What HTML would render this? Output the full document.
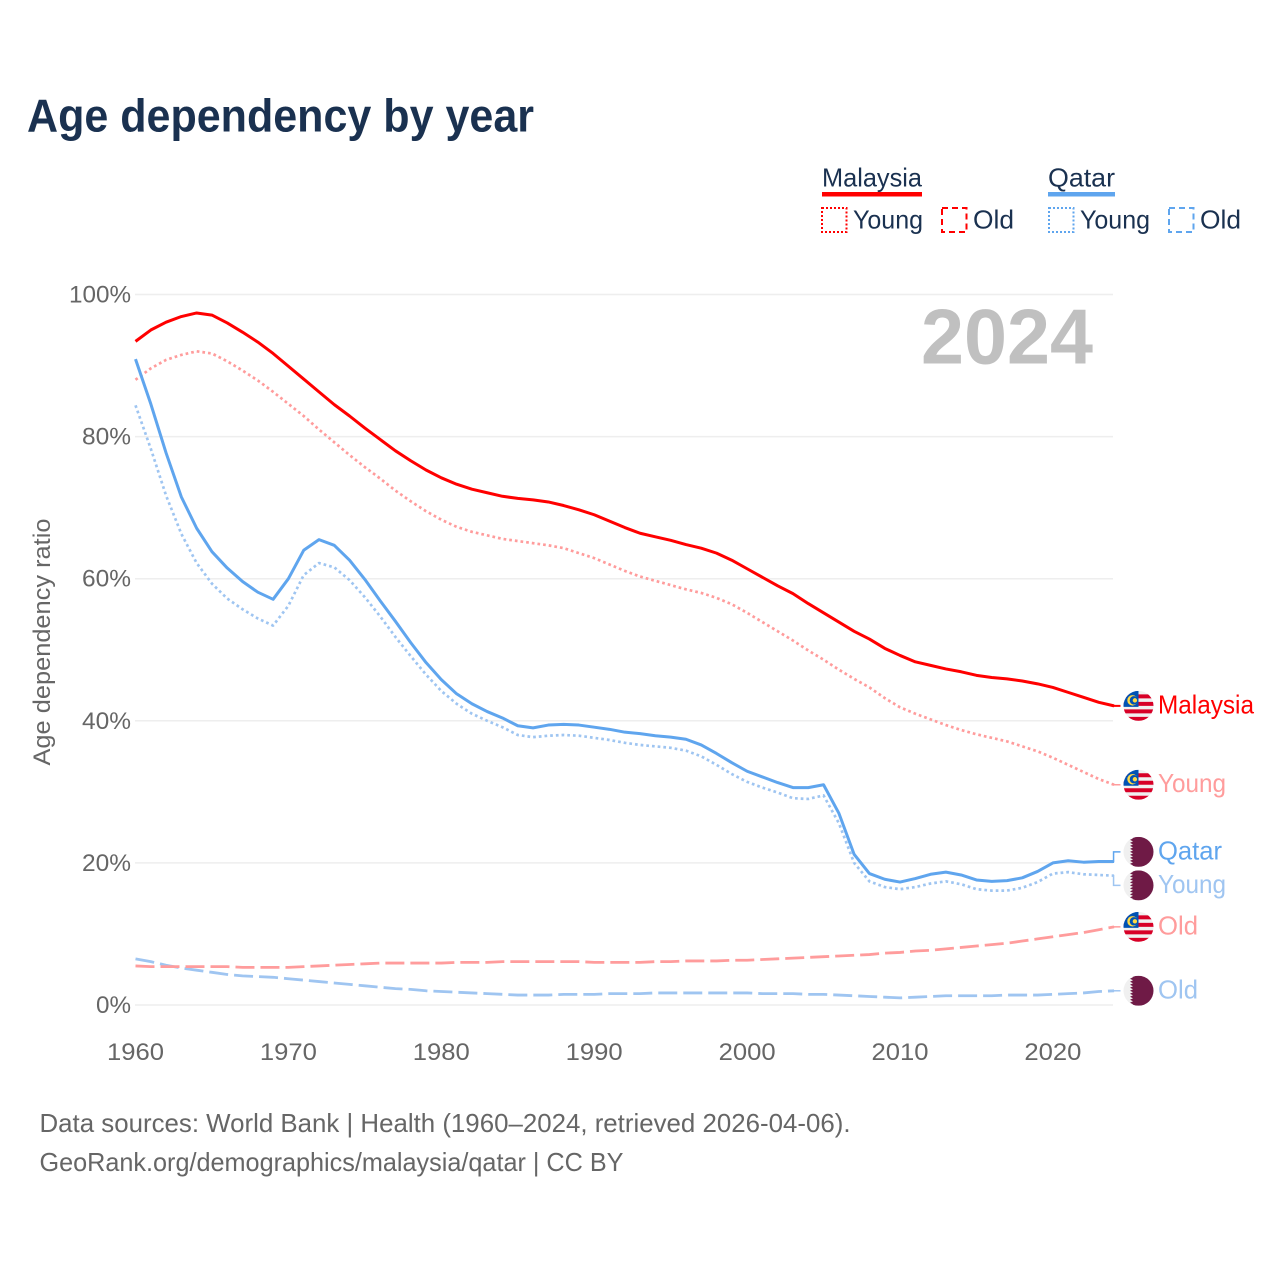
<!DOCTYPE html>
<html lang="en">
<head>
<meta charset="utf-8">
<title>Age dependency by year</title>
<style>
html,body{margin:0;padding:0;background:#fff;}
svg{display:block;}
text{font-family:"Liberation Sans",sans-serif;}
</style>
</head>
<body>
<svg id="chart" xmlns="http://www.w3.org/2000/svg" width="1280" height="1280" viewBox="0 0 1280 1280">
  <defs>
    <clipPath id="flag-clip"><circle cx="0" cy="0" r="15"/></clipPath>
    <symbol id="flag-malaysia" overflow="visible">
      <g clip-path="url(#flag-clip)">
        <rect x="-15" y="-15" width="30" height="30" fill="#f0f0f0"/>
        <rect x="-15" y="-11.5" width="30" height="4" fill="#d80027"/>
        <rect x="-15" y="-4" width="30" height="4" fill="#d80027"/>
        <rect x="-15" y="3.5" width="30" height="4" fill="#d80027"/>
        <rect x="-15" y="11" width="30" height="4" fill="#d80027"/>
        <rect x="-15" y="-15" width="15" height="16" fill="#0052b4"/>
        <circle cx="-6" cy="-5.5" r="5.2" fill="#ffda44"/>
        <circle cx="-4.6" cy="-5.5" r="4.2" fill="#0052b4"/>
        <circle cx="-3.6" cy="-5.5" r="2.2" fill="#ffda44"/>
      </g>
    </symbol>
    <symbol id="flag-qatar" overflow="visible">
      <g clip-path="url(#flag-clip)">
        <rect x="-15" y="-15" width="30" height="30" fill="#f0f0f0"/>
        <polygon fill="#6f1a46" points="15,-15 -8.5,-15 -5.5,-13.5 -8.5,-12 -5.5,-10.5 -8.5,-9 -5.5,-7.5 -8.5,-6 -5.5,-4.5 -8.5,-3 -5.5,-1.5 -8.5,0 -5.5,1.5 -8.5,3 -5.5,4.5 -8.5,6 -5.5,7.5 -8.5,9 -5.5,10.5 -8.5,12 -5.5,13.5 -8.5,15 15,15"/>
      </g>
    </symbol>
  </defs>

  <text x="27" y="131.5" font-size="46" font-weight="700" fill="#1a3150" textLength="507" lengthAdjust="spacingAndGlyphs">Age dependency by year</text>

  <g fill="#1a3150" font-size="26">
    <text x="822" y="186.5" textLength="100" lengthAdjust="spacingAndGlyphs">Malaysia</text>
    <rect x="822" y="192" width="100" height="4.5" fill="#ff0000"/>
    <rect x="822" y="208" width="24.5" height="24" fill="none" stroke="#ff0000" stroke-width="2" stroke-dasharray="2 2"/>
    <text x="853" y="228.5" textLength="70" lengthAdjust="spacingAndGlyphs">Young</text>
    <rect x="942" y="208" width="24.5" height="24" fill="none" stroke="#ff0000" stroke-width="2" stroke-dasharray="6 4"/>
    <text x="973" y="228.5" textLength="41" lengthAdjust="spacingAndGlyphs">Old</text>
    <text x="1048" y="186.5" textLength="67" lengthAdjust="spacingAndGlyphs">Qatar</text>
    <rect x="1048" y="192" width="67" height="4.5" fill="#5fa5ee"/>
    <rect x="1049" y="208" width="24.5" height="24" fill="none" stroke="#5fa5ee" stroke-width="2" stroke-dasharray="2 2"/>
    <text x="1080" y="228.5" textLength="70" lengthAdjust="spacingAndGlyphs">Young</text>
    <rect x="1169" y="208" width="24.5" height="24" fill="none" stroke="#5fa5ee" stroke-width="2" stroke-dasharray="6 4"/>
    <text x="1200" y="228.5" textLength="41" lengthAdjust="spacingAndGlyphs">Old</text>
  </g>

  <text transform="translate(50,642) rotate(-90)" text-anchor="middle" font-size="24" fill="#666666" textLength="247" lengthAdjust="spacingAndGlyphs">Age dependency ratio</text>

  <g id="grid-layer"></g>
  <g id="tick-layer"></g>

  <text x="921" y="363.5" font-size="78" font-weight="700" fill="#c0c0c0" textLength="172" lengthAdjust="spacingAndGlyphs">2024</text>

  <g id="series-layer"></g>
  <g id="end-layer"></g>

  <g font-size="26" fill="#666666">
    <text x="39.5" y="1132" textLength="811" lengthAdjust="spacingAndGlyphs">Data sources: World Bank | Health (1960–2024, retrieved 2026-04-06).</text>
    <text x="39.5" y="1171" textLength="584" lengthAdjust="spacingAndGlyphs">GeoRank.org/demographics/malaysia/qatar | CC BY</text>
  </g>
</svg>
<script>
const firstYear = 1960;
const xTickYears = [1960, 1970, 1980, 1990, 2000, 2010, 2020];
const yTickValues = [0, 20, 40, 60, 80, 100];

const malaysiaTotal = [93.4,95.0,96.1,96.9,97.4,97.1,96.0,94.7,93.3,91.7,
  89.9,88.1,86.3,84.5,82.9,81.2,79.6,78.0,76.6,75.3,
  74.2,73.3,72.6,72.1,71.6,71.3,71.1,70.8,70.3,69.7,
  69.0,68.1,67.2,66.4,65.9,65.4,64.8,64.3,63.6,62.6,
  61.4,60.2,59.0,57.9,56.5,55.2,53.9,52.6,51.5,50.2,
  49.2,48.3,47.8,47.3,46.9,46.4,46.1,45.9,45.6,45.2,
  44.7,44.0,43.3,42.6,42.1];
const malaysiaYoung = [88.0,89.6,90.8,91.5,92.0,91.7,90.6,89.3,87.9,86.3,
  84.6,82.9,81.0,79.2,77.4,75.7,74.1,72.4,70.9,69.5,
  68.3,67.3,66.6,66.1,65.6,65.3,65.0,64.7,64.3,63.6,
  62.9,62.0,61.1,60.3,59.7,59.1,58.5,58.0,57.3,56.4,
  55.2,53.9,52.6,51.3,49.9,48.6,47.2,45.9,44.7,43.2,
  41.9,41.0,40.2,39.4,38.7,38.1,37.6,37.1,36.4,35.7,
  34.8,33.8,32.8,31.8,31.0];
const malaysiaOld = [5.5,5.4,5.4,5.4,5.4,5.4,5.4,5.3,5.3,5.3,
  5.3,5.4,5.5,5.6,5.7,5.8,5.9,5.9,5.9,5.9,
  5.9,6.0,6.0,6.0,6.1,6.1,6.1,6.1,6.1,6.1,
  6.0,6.0,6.0,6.0,6.1,6.1,6.2,6.2,6.2,6.3,
  6.3,6.4,6.5,6.6,6.7,6.8,6.9,7.0,7.1,7.3,
  7.4,7.6,7.7,7.9,8.1,8.3,8.5,8.7,9.0,9.3,
  9.6,9.9,10.2,10.6,11.0];
const qatarTotal = [90.9,84.6,77.7,71.5,67.1,63.8,61.5,59.6,58.1,57.1,
  60.0,64.0,65.5,64.7,62.6,59.9,56.9,54.0,51.0,48.2,
  45.8,43.8,42.4,41.3,40.4,39.3,39.0,39.4,39.5,39.4,
  39.1,38.8,38.4,38.2,37.9,37.7,37.4,36.6,35.4,34.1,
  32.9,32.1,31.3,30.6,30.6,31.0,27.0,21.2,18.5,17.7,
  17.3,17.8,18.4,18.7,18.3,17.6,17.4,17.5,17.9,18.8,
  20.0,20.3,20.1,20.2,20.2];
const qatarYoung = [84.4,78.3,71.7,66.3,62.2,59.3,57.2,55.7,54.4,53.4,
  56.2,60.5,62.2,61.6,59.8,57.4,54.7,51.8,49.1,46.5,
  44.2,42.4,41.0,40.0,39.1,38.0,37.7,37.9,38.0,37.9,
  37.6,37.3,36.9,36.6,36.4,36.2,35.8,35.0,33.8,32.5,
  31.4,30.6,29.9,29.1,29.0,29.5,25.6,20.0,17.4,16.6,
  16.3,16.6,17.1,17.4,17.0,16.3,16.1,16.1,16.5,17.3,
  18.5,18.7,18.4,18.3,18.2];
const qatarOld = [6.5,6.1,5.6,5.2,4.9,4.6,4.3,4.1,4.0,3.9,
  3.7,3.5,3.3,3.1,2.9,2.7,2.5,2.3,2.2,2.0,
  1.9,1.8,1.7,1.6,1.5,1.4,1.4,1.4,1.5,1.5,
  1.5,1.6,1.6,1.6,1.7,1.7,1.7,1.7,1.7,1.7,
  1.7,1.6,1.6,1.6,1.5,1.5,1.4,1.3,1.2,1.1,
  1.0,1.1,1.2,1.3,1.3,1.3,1.3,1.4,1.4,1.4,
  1.5,1.6,1.7,1.9,2.0];

const NS = 'http://www.w3.org/2000/svg';
function xScale(year) { return 135.5 + (year - firstYear) * 15.29; }
function yScale(v) { return 1005 - v * 7.105; }
function make(tag, attrs, parent) {
  const el = document.createElementNS(NS, tag);
  for (const k in attrs) el.setAttribute(k, attrs[k]);
  parent.appendChild(el);
  return el;
}

const gridLayer = document.getElementById('grid-layer');
const tickLayer = document.getElementById('tick-layer');
const seriesLayer = document.getElementById('series-layer');
const endLayer = document.getElementById('end-layer');

yTickValues.forEach(function (v) {
  const line = make('line', {x1: 135, x2: 1113, y1: yScale(v), y2: yScale(v), stroke: '#eeeeee', 'stroke-width': 1.5}, gridLayer);
  
  
  const label = make('text', {x: 131, y: yScale(v) + 8, 'text-anchor': 'end', 'font-size': 24, fill: '#666666'}, tickLayer);
  
  
  label.setAttribute('textLength', v === 100 ? 62 : (v === 0 ? 35 : 49));
  label.setAttribute('lengthAdjust', 'spacingAndGlyphs');
  label.textContent = v + '%';
});

xTickYears.forEach(function (yr) {
  const label = make('text', {x: xScale(yr), y: 1060, 'text-anchor': 'middle', 'font-size': 24, fill: '#666666'}, tickLayer);
  
  
  label.setAttribute('textLength', 57);
  label.setAttribute('lengthAdjust', 'spacingAndGlyphs');
  label.textContent = String(yr);
});

function drawLine(values, color, width, dash, name) {
  const d = values.map(function (v, i) {
    return (i ? 'L' : 'M') + xScale(firstYear + i).toFixed(2) + ' ' + yScale(v).toFixed(2);
  }).join(' ');
  const attrs = {d: d, fill: 'none', stroke: color, 'stroke-width': width, 'stroke-linejoin': 'round'};
  if (dash) attrs['stroke-dasharray'] = dash;
  const path = make('path', attrs, seriesLayer);
  
  
}

function drawEnd(values, color, width, nudge, flag, text, textWidth, name) {
  const endY = yScale(values[values.length - 1]);
  const labelY = endY + nudge;
  const endX = xScale(firstYear + values.length - 1);
  const conn = make('path', {
    d: 'M' + (endX - 2) + ' ' + endY + ' L' + (endX - 0.5) + ' ' + endY + ' L' + (endX - 0.5) + ' ' + labelY + ' L1120.5 ' + labelY,
    fill: 'none', stroke: color, 'stroke-width': width
  }, endLayer);
  
  
  const use = make('use', {href: '#flag-' + flag, x: 1138.5, y: labelY}, endLayer);
  
  
  const label = make('text', {x: 1158, y: labelY + 7.5, 'font-size': 26, fill: color, textLength: textWidth, lengthAdjust: 'spacingAndGlyphs'}, endLayer);
  
  
  label.textContent = text;
}

const DOT = '2.7 3';
const DASH = '19 6';
const RED = '#ff0000', PINK = '#ff9c9c', BLUE = '#5fa5ee', SKY = '#9fc5f1';

drawLine(qatarOld, SKY, 2.8, DASH, 'line-qatar-old');
drawLine(malaysiaOld, PINK, 2.8, DASH, 'line-malaysia-old');
drawLine(qatarYoung, SKY, 2.7, DOT, 'line-qatar-young');
drawLine(malaysiaYoung, PINK, 2.7, DOT, 'line-malaysia-young');
drawLine(qatarTotal, BLUE, 3, null, 'line-qatar-total');
drawLine(malaysiaTotal, RED, 3, null, 'line-malaysia-total');

drawEnd(malaysiaTotal, RED, 2, 0, 'malaysia', 'Malaysia', 96, 'end-malaysia-total');
drawEnd(malaysiaYoung, PINK, 1.5, 0, 'malaysia', 'Young', 68, 'end-malaysia-young');
drawEnd(qatarTotal, BLUE, 1.5, -9.6, 'qatar', 'Qatar', 64, 'end-qatar-total');
drawEnd(qatarYoung, SKY, 1.5, 9.7, 'qatar', 'Young', 68, 'end-qatar-young');
drawEnd(malaysiaOld, PINK, 1.5, 0, 'malaysia', 'Old', 40, 'end-malaysia-old');
drawEnd(qatarOld, SKY, 1.5, 0, 'qatar', 'Old', 40, 'end-qatar-old');
</script>
</body>
</html>
